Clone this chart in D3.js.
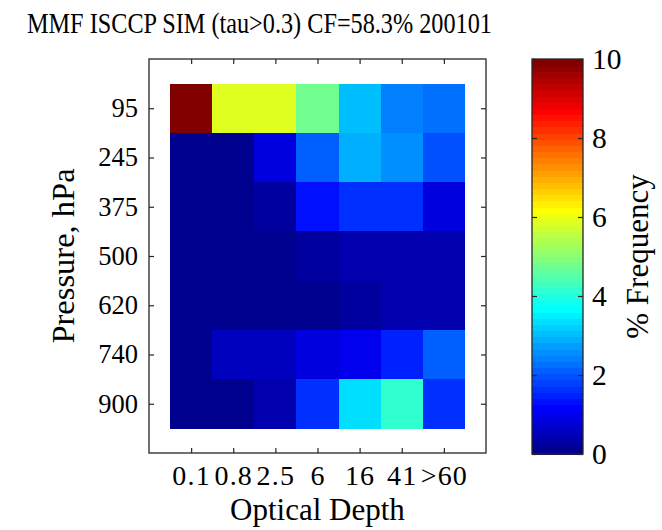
<!DOCTYPE html>
<html>
<head>
<meta charset="utf-8">
<script src="https://cdn.jsdelivr.net/npm/d3@7"></script>
<style>
  html, body { margin: 0; padding: 0; background: #fff; }
  svg text { font-family: "Liberation Serif", "DejaVu Serif", serif; fill: #000; }
</style>
</head>
<body>
<svg id="chart" width="662" height="530"></svg>
<script>
// Optical depth bins (columns) and cloud-top pressure bins (rows, top to bottom)
const tauLabels = ["0.1", "0.8", "2.5", "6", "16", "41", ">60"];
const pressureLabels = ["95", "245", "375", "500", "620", "740", "900"];

// % frequency per pressure row, one value per optical depth bin
const row95  = [10.0, 5.9, 5.9, 4.7, 3.1, 2.4, 2.2];
const row245 = [0.1, 0.1, 0.8, 2.1, 2.9, 2.6, 2.0];
const row375 = [0.1, 0.1, 0.3, 1.3, 1.6, 1.6, 0.9];
const row500 = [0.1, 0.1, 0.1, 0.3, 0.45, 0.45, 0.45];
const row620 = [0.1, 0.1, 0.1, 0.05, 0.25, 0.4, 0.4];
const row740 = [0.15, 0.5, 0.6, 0.8, 0.95, 1.5, 2.1];
const row900 = [0.1, 0.05, 0.45, 1.6, 3.4, 4.2, 1.6];
const freqRows = [row95, row245, row375, row500, row620, row740, row900];

const colorTicks = [0, 2, 4, 6, 8, 10];
const titleText = "MMF ISCCP SIM (tau>0.3) CF=58.3% 200101";

// 64-level jet colormap
function jetMap(m) {
  const n = Math.ceil(m / 4);
  const u = [];
  for (let i = 1; i <= n; i++) u.push(i / n);
  for (let i = 0; i < n - 1; i++) u.push(1);
  for (let i = n; i >= 1; i--) u.push(i / n);
  const gStart = Math.ceil(n / 2) - (m % 4 === 1 ? 1 : 0);
  const rgb = Array.from({ length: m }, () => [0, 0, 0]);
  u.forEach((val, k) => {
    const g = gStart + k + 1, r = g + n, b = g - n;
    if (g >= 1 && g <= m) rgb[g - 1][1] = val;
    if (r >= 1 && r <= m) rgb[r - 1][0] = val;
    if (b >= 1 && b <= m) rgb[b - 1][2] = val;
  });
  return rgb.map(c => d3.rgb(c[0] * 255, c[1] * 255, c[2] * 255).formatHex());
}
const nLevels = 64;
const jet = jetMap(nLevels);
const cmin = 0, cmax = 10;
const colorOf = v => {
  let idx = Math.floor((v - cmin) / (cmax - cmin) * nLevels);
  idx = Math.max(0, Math.min(nLevels - 1, idx));
  return jet[idx];
};

const svg = d3.select("#chart");
const axisColor = "#262626";

// main axes box
const plotL = 149, plotR = 486, plotT = 59, plotB = 453;
const x = d3.scaleLinear().domain([0, 8]).range([plotL, plotR]);
const y = d3.scaleLinear().domain([0, 8]).range([plotT, plotB]);

const cells = [];
freqRows.forEach((row, ri) => row.forEach((v, ci) => cells.push({ r: ri + 1, c: ci + 1, v })));

svg.append("g").selectAll("rect").data(cells).join("rect")
  .attr("x", d => x(d.c - 0.5))
  .attr("y", d => y(d.r - 0.5))
  .attr("width", d => x(d.c + 0.5) - x(d.c - 0.5) + 0.5)
  .attr("height", d => y(d.r + 0.5) - y(d.r - 0.5) + 0.5)
  .attr("fill", d => colorOf(d.v))
  .attr("shape-rendering", "crispEdges");

const tickPos = d3.range(1, 8);
const tickLen = 5;

// axes using d3 axis generators with inward ticks
const xAxisBottom = d3.axisBottom(x).tickValues(tickPos).tickSize(-tickLen)
  .tickFormat((d, i) => tauLabels[i]).tickPadding(12);
const gxb = svg.append("g").attr("transform", `translate(0,${plotB})`).call(xAxisBottom);
const xAxisTop = d3.axisTop(x).tickValues(tickPos).tickSize(-tickLen).tickFormat("");
const gxt = svg.append("g").attr("transform", `translate(0,${plotT})`).call(xAxisTop);
const yAxisLeft = d3.axisLeft(y).tickValues(tickPos).tickSize(-tickLen)
  .tickFormat((d, i) => pressureLabels[i]).tickPadding(11);
const gyl = svg.append("g").attr("transform", `translate(${plotL},0)`).call(yAxisLeft);
const yAxisRight = d3.axisRight(y).tickValues(tickPos).tickSize(-tickLen).tickFormat("");
const gyr = svg.append("g").attr("transform", `translate(${plotR},0)`).call(yAxisRight);

[gxb, gxt, gyl, gyr].forEach(g => {
  g.select(".domain").remove();
  g.selectAll(".tick line").attr("stroke", axisColor).attr("stroke-width", 1.2);
});
gxb.selectAll(".tick text").attr("font-size", 28).attr("letter-spacing", 1.2)
  .attr("font-family", "Liberation Serif").attr("fill", "#000");
gyl.selectAll(".tick text").attr("font-size", 26.5).attr("font-family", "Liberation Serif").attr("fill", "#000");

svg.append("rect")
  .attr("x", plotL).attr("y", plotT)
  .attr("width", plotR - plotL).attr("height", plotB - plotT)
  .attr("fill", "none").attr("stroke", axisColor).attr("stroke-width", 1.3);

// axis titles
svg.append("text")
  .attr("x", (plotL + plotR) / 2).attr("y", 520)
  .attr("text-anchor", "middle").attr("font-size", 31)
  .text("Optical Depth");
svg.append("text")
  .attr("transform", `translate(74,${(plotT + plotB) / 2}) rotate(-90)`)
  .attr("text-anchor", "middle").attr("font-size", 32.5)
  .text("Pressure, hPa");

// title
svg.append("text")
  .attr("x", 27).attr("y", 33)
  .attr("font-size", 29)
  .attr("textLength", 465)
  .attr("lengthAdjust", "spacingAndGlyphs")
  .text(titleText);

// colorbar
const cbL = 532, cbR = 583, cbT = 59, cbB = 454;
const cy = d3.scaleLinear().domain([cmin, cmax]).range([cbB, cbT]);
const levels = d3.range(nLevels);
svg.append("g").selectAll("rect").data(levels).join("rect")
  .attr("x", cbL)
  .attr("width", cbR - cbL)
  .attr("y", i => cy(cmin + (i + 1) * (cmax - cmin) / nLevels))
  .attr("height", i => cy(cmin + i * (cmax - cmin) / nLevels) - cy(cmin + (i + 1) * (cmax - cmin) / nLevels) + 0.5)
  .attr("fill", i => jet[i])
  .attr("shape-rendering", "crispEdges");

const cbAxisRight = d3.axisRight(cy).tickValues(colorTicks).tickSize(-tickLen).tickPadding(9);
const gcr = svg.append("g").attr("transform", `translate(${cbR},0)`).call(cbAxisRight);
const cbAxisLeft = d3.axisLeft(cy).tickValues(colorTicks).tickSize(-tickLen).tickFormat("");
const gcl = svg.append("g").attr("transform", `translate(${cbL},0)`).call(cbAxisLeft);
[gcr, gcl].forEach(g => {
  g.select(".domain").remove();
  g.selectAll(".tick line").attr("stroke", axisColor).attr("stroke-width", 1.2);
});
gcr.selectAll(".tick text").attr("font-size", 29.5).attr("font-family", "Liberation Serif").attr("fill", "#000");

svg.append("rect")
  .attr("x", cbL).attr("y", cbT)
  .attr("width", cbR - cbL).attr("height", cbB - cbT)
  .attr("fill", "none").attr("stroke", axisColor).attr("stroke-width", 1.3);

svg.append("text")
  .attr("transform", `translate(648,${(cbT + cbB) / 2}) rotate(-90)`)
  .attr("text-anchor", "middle").attr("font-size", 31)
  .text("% Frequency");
</script>
</body>
</html>
